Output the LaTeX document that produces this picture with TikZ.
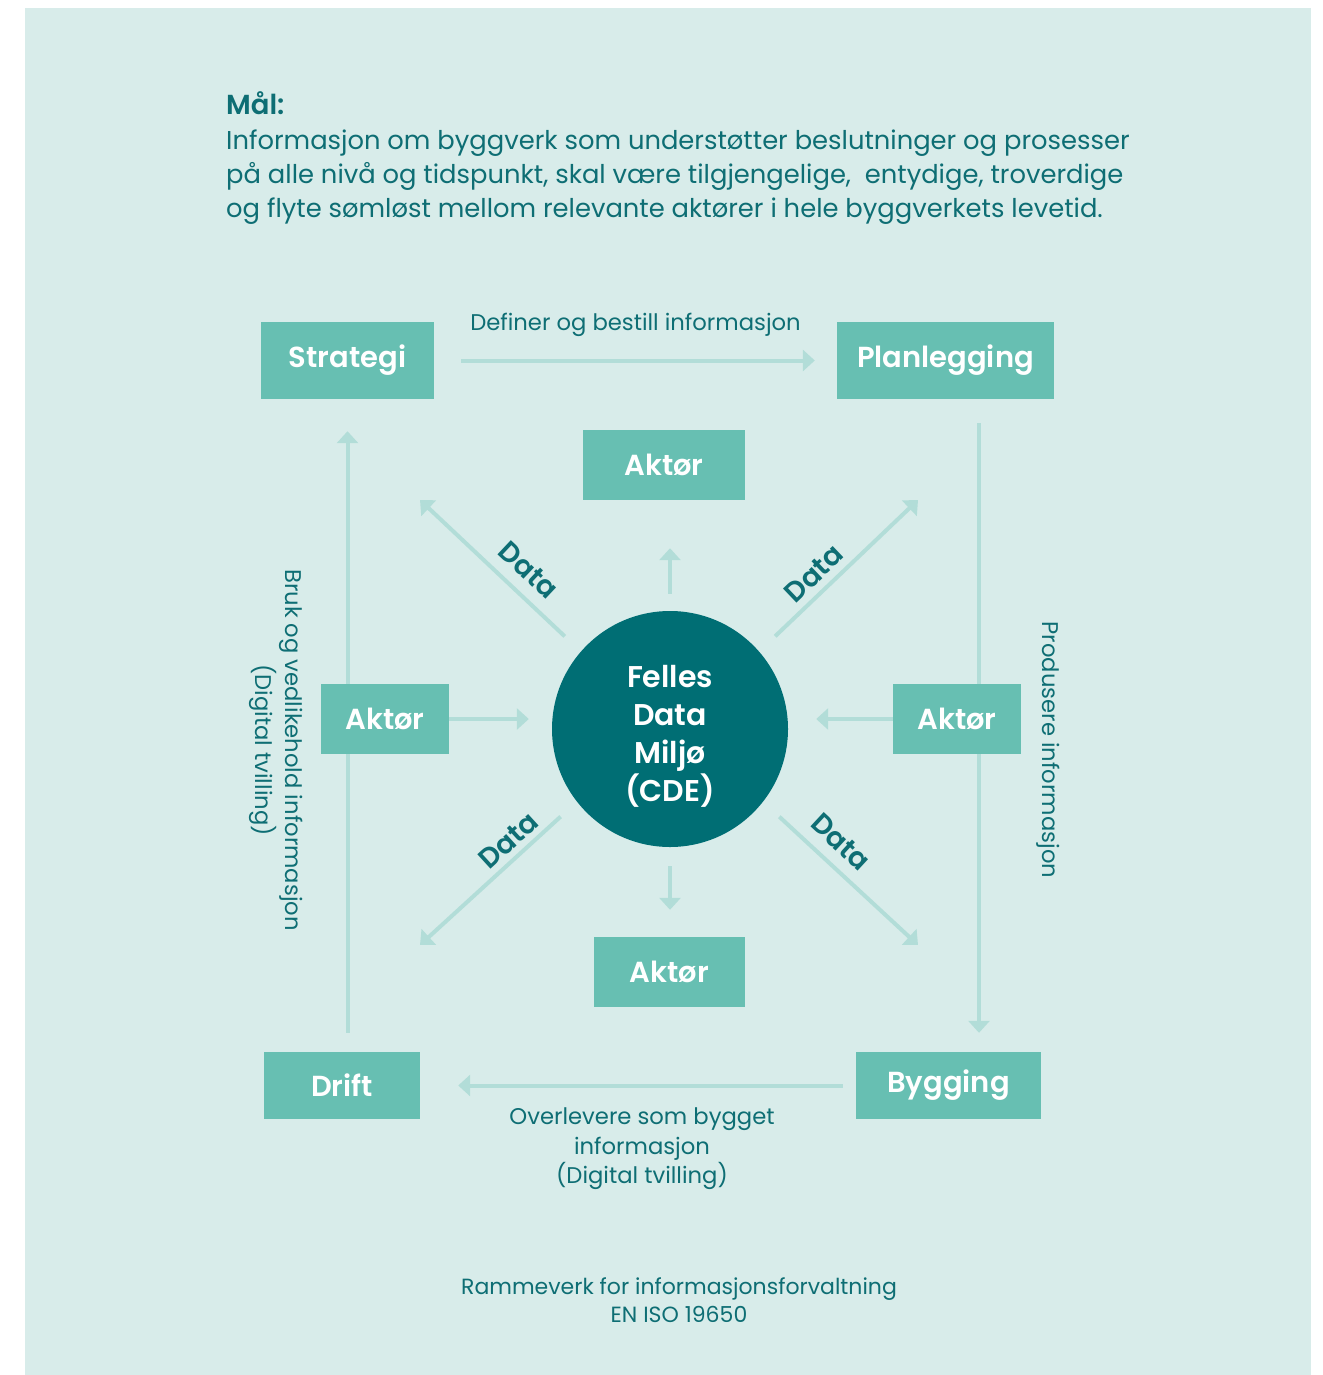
\documentclass[tikz,border=0pt]{standalone}
\usepackage{fontspec}
\setmainfont{Poppins}[BoldFont={Poppins SemiBold}]
\usetikzlibrary{positioning, arrows.meta}
\definecolor{bgteal}{HTML}{D8ECEA}
\definecolor{boxteal}{HTML}{67BFB2}
\definecolor{cdeteal}{HTML}{006E74}
\definecolor{lineteal}{HTML}{B2DDD8}
\definecolor{textteal}{HTML}{0E6E74}
\pgfdeclarelayer{back}
\pgfsetlayers{back,main}
\tikzstyle{phase} = [rectangle, fill=boxteal, text=white, inner sep=0pt, font=\fontsize{29}{34}\selectfont\bfseries]
\tikzstyle{arrow} = [line width=4pt, draw=lineteal, -{Triangle[width=21pt,length=12pt]}]
\tikzstyle{goaltext} = [anchor=base west, inner sep=0pt, text=textteal, font=\fontsize{25.8}{34}\selectfont]
\tikzstyle{flowlabel} = [inner sep=0pt, text=textteal, align=center, font=\fontsize{22.7}{29.5}\selectfont]
\tikzstyle{datalabel} = [sloped, above=2pt, pos=0.40, text=textteal, font=\fontsize{28}{30}\selectfont\bfseries]

\begin{document}
\begin{tikzpicture}[x=1pt, y=-1pt]
\useasboundingbox (0,0) rectangle (1322,1375);
\begin{pgfonlayer}{back}
\fill [bgteal] (25,8) rectangle (1311,1375);
\end{pgfonlayer}

% goal
\node (goalhead) [goaltext, font=\fontsize{27.5}{34}\selectfont\bfseries] at (226,115) {Mål:};
\node (goal1) [goaltext] at (226,150) {Informasjon om byggverk som understøtter beslutninger og prosesser};
\node (goal2) [goaltext] at (226,184) {på alle nivå og tidspunkt, skal være tilgjengelige,\ \ entydige, troverdige};
\node (goal3) [goaltext] at (226,218) {og flyte sømløst mellom relevante aktører i hele byggverkets levetid.};

% phases
\node (strategi) [phase, minimum width=173pt, minimum height=77pt] at (347.5,360.5) {Strategi};
\node (plan) [phase, minimum width=217pt, minimum height=77pt] at (945.5,360.5) {Planlegging};
\node (bygging) [phase, minimum width=185pt, minimum height=67pt] at (948.5,1085.5) {Bygging};
\node (drift) [phase, minimum width=156pt, minimum height=67pt] at (342,1085.5) {Drift};

% common data environment and actors
\node (cde) [circle, fill=cdeteal, minimum size=236pt, inner sep=0pt] at (670,729) {};
\node (cdetext) [text=white, align=center, font=\fontsize{30}{38}\selectfont\bfseries] at (670,736) {Felles\\Data\\Miljø\\(CDE)};
\node (aktTop) [phase, minimum width=162pt, minimum height=70pt] at (664,465) {Aktør};
\node (aktLeft) [phase, minimum width=128pt, minimum height=70pt] at (385,719) {Aktør};
\node (aktRight) [phase, minimum width=128pt, minimum height=70pt] at (957,719) {Aktør};
\node (aktBottom) [phase, minimum width=151pt, minimum height=70pt] at (669.5,972) {Aktør};

\coordinate (rline) at (979,0);
\coordinate (ulEnd) at (420,500);
\coordinate (urEnd) at (918,500);
\coordinate (llEnd) at (420,945);
\coordinate (lrEnd) at (918,945);

\begin{pgfonlayer}{back}
\draw [arrow, shorten <=27pt, shorten >=22pt] (strategi) -- node[flowlabel, above=22pt] {Definer og bestill informasjon} (plan);
\draw [arrow, shorten <=24pt, shorten >=19pt] (plan.south -| rline) -- (bygging.north -| rline);
\draw [arrow, shorten <=13pt, shorten >=38pt] (bygging) -- (drift);
\draw [arrow, shorten <=19pt, shorten >=32pt] (drift.north -| strategi) -- (strategi.south);
\draw [arrow, shorten >=23pt] (aktLeft) -- (aktLeft -| cde.west);
\draw [arrow, shorten >=28pt] (aktRight) -- (aktRight -| cde.east);
\draw [arrow, shorten <=17pt, shorten >=48pt] (cde.north) -- (cde.north |- aktTop.south);
\draw [arrow, shorten <=19pt, shorten >=27pt] (cde.south) -- (cde.south |- aktBottom.north);
\draw [arrow, shorten <=22pt] (cde.139) -- node[datalabel, pos=0.425, above=8pt] {Data} (ulEnd);
\draw [arrow, shorten <=22pt] (cde.41) -- node[datalabel, pos=0.425, above=3.5pt] {Data} (urEnd);
\draw [arrow, shorten <=22pt] (cde.218) -- node[datalabel, pos=0.36] {Data} (llEnd);
\draw [arrow, shorten <=22pt] (cde.322) -- node[datalabel, pos=0.40, above=8pt] {Data} (lrEnd);
\end{pgfonlayer}

% side and bottom labels
\node (produce) [flowlabel, rotate=-90] at (1048,750) {Produsere informasjon};
\node (maintain) [flowlabel, rotate=-90] at (276,750) {Bruk og vedlikehold informasjon\\(Digital tvilling)};
\node (handover) [flowlabel] at (642,1149) {Overlevere som bygget\\informasjon\\(Digital tvilling)};
\node (framework) [flowlabel, font=\fontsize{22}{28}\selectfont] at (679,1300) {Rammeverk for informasjonsforvaltning\\EN ISO 19650};
\end{tikzpicture}
\end{document}
